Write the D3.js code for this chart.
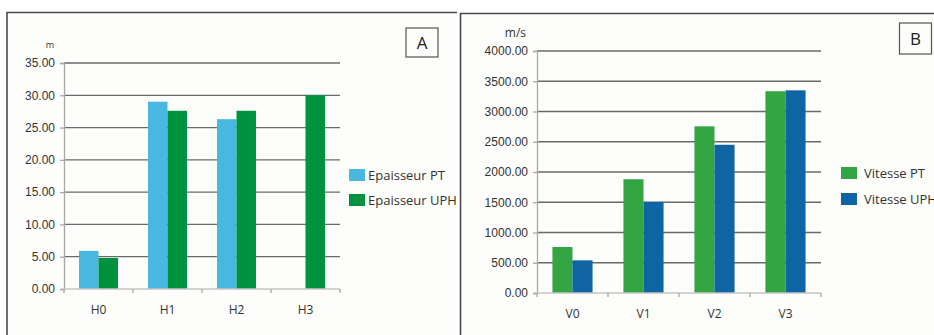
<!DOCTYPE html>
<html>
<head>
<meta charset="utf-8">
<script src="https://cdn.jsdelivr.net/npm/d3@7/dist/d3.min.js"></script>
<style>
  html, body { margin: 0; padding: 0; background: #ffffff; }
  svg { display: block; font-family: "Open Sans", "DejaVu Sans", sans-serif; }
</style>
</head>
<body>
<svg id="chart" width="934" height="335"></svg>
<script>
// Panel A: layer thickness (m)
const thicknessCategories = ["H0", "H1", "H2", "H3"];
const thicknessPT = [5.9, 29.0, 26.3, 0];
const thicknessUPH = [4.8, 27.6, 27.6, 30.0];
const thicknessTicks = [0, 5, 10, 15, 20, 25, 30, 35];
const thicknessSeries = ["Epaisseur PT", "Epaisseur UPH"];

// Panel B: wave velocity (m/s)
const velocityCategories = ["V0", "V1", "V2", "V3"];
const velocityPT = [760, 1880, 2755, 3335];
const velocityUPH = [540, 1505, 2450, 3350];
const velocityTicks = [0, 500, 1000, 1500, 2000, 2500, 3000, 3500, 4000];
const velocitySeries = ["Vitesse PT", "Vitesse UPH"];

const svg = d3.select("#chart");

function drawPanel(cfg) {
  const g = svg.append("g");

  // panel background and frame (top and left edges; the rest runs off the page)
  g.append("rect")
    .attr("x", cfg.frame.x).attr("y", cfg.frame.y)
    .attr("width", cfg.frame.w).attr("height", cfg.frame.h)
    .attr("fill", "#fdfdfb");
  g.append("path")
    .attr("d", `M${cfg.frame.x},${cfg.frame.y + cfg.frame.h}V${cfg.frame.y}H${cfg.frame.x + cfg.frame.w}`)
    .attr("fill", "none").attr("stroke", "#4a4a4a").attr("stroke-width", 1.6);

  const x0 = d3.scaleBand().domain(cfg.categories)
    .range([cfg.plot.left, cfg.plot.right]).paddingInner(0).paddingOuter(0);
  const keys = [0, 1];
  const x1 = d3.scaleBand().domain(keys)
    .range([0, x0.bandwidth() * cfg.groupFrac]).padding(0);
  const groupOffset = (x0.bandwidth() - x0.bandwidth() * cfg.groupFrac) / 2;
  const y = d3.scaleLinear().domain([0, cfg.max])
    .range([cfg.plot.bottom, cfg.plot.top]);

  // horizontal gridlines
  g.append("g").selectAll("line")
    .data(cfg.ticks.filter(t => t > 0))
    .join("line")
    .attr("x1", cfg.plot.left).attr("x2", cfg.plot.right)
    .attr("y1", d => y(d)).attr("y2", d => y(d))
    .attr("stroke", "#6a6a6a").attr("stroke-width", 1.3);

  // bars
  const series = [cfg.pt, cfg.uph];
  const rows = cfg.categories.map((c, i) => ({ c, v: series.map(s => s[i]) }));
  g.append("g").selectAll("g")
    .data(rows)
    .join("g")
    .attr("transform", d => `translate(${x0(d.c) + groupOffset},0)`)
    .selectAll("rect")
    .data(d => d.v.map((v, k) => ({ k, v })).filter(d => d.v > 0))
    .join("rect")
    .attr("x", d => x1(d.k))
    .attr("width", x1.bandwidth())
    .attr("y", d => y(d.v))
    .attr("height", d => y(0) - y(d.v))
    .attr("fill", d => cfg.colors[d.k]);

  // y axis
  const yAxis = d3.axisLeft(y).tickValues(cfg.ticks)
    .tickFormat(d3.format(".2f")).tickSize(4).tickPadding(5);
  const ya = g.append("g").attr("transform", `translate(${cfg.plot.left},0)`).call(yAxis);
  ya.select(".domain").attr("stroke", "#a8a8a8").attr("stroke-width", 1.3);
  ya.selectAll(".tick line").attr("stroke", "#a8a8a8").attr("stroke-width", 1.3);
  ya.selectAll(".tick text").attr("fill", "#333").style("font-size", "12px");

  // x axis: tick marks at category boundaries
  const bx = g.append("g");
  bx.append("line")
    .attr("x1", cfg.plot.left).attr("x2", cfg.plot.right)
    .attr("y1", y(0)).attr("y2", y(0))
    .attr("stroke", "#c4c4c4").attr("stroke-width", 1.3);
  const bounds = cfg.categories.map(c => x0(c)).concat([x0.range()[1]]);
  bx.selectAll("line.tk").data(bounds).join("line").attr("class", "tk")
    .attr("x1", d => d).attr("x2", d => d)
    .attr("y1", y(0)).attr("y2", y(0) + 4)
    .attr("stroke", "#a8a8a8").attr("stroke-width", 1.3);
  bx.selectAll("text").data(cfg.categories).join("text")
    .attr("x", d => x0(d) + x0.bandwidth() / 2)
    .attr("y", y(0) + 25)
    .attr("text-anchor", "middle")
    .attr("fill", "#333").style("font-size", "12px")
    .text(d => d);

  // unit label
  g.append("text")
    .attr("x", cfg.unit.x).attr("y", cfg.unit.y)
    .attr("text-anchor", "end")
    .attr("fill", "#333").style("font-size", cfg.unit.size)
    .text(cfg.unit.text);

  // legend
  const lg = g.append("g");
  cfg.names.forEach((n, i) => {
    lg.append("rect")
      .attr("x", cfg.legend.x).attr("y", cfg.legend.y + i * cfg.legend.gap)
      .attr("width", 16).attr("height", 12)
      .attr("fill", cfg.colors[i]);
    lg.append("text")
      .attr("x", cfg.legend.x + cfg.legend.textDx)
      .attr("y", cfg.legend.y + i * cfg.legend.gap + 11)
      .attr("fill", "#333").style("font-size", "13px")
      .text(n);
  });

  // panel letter
  g.append("rect")
    .attr("x", cfg.badge.x).attr("y", cfg.badge.y)
    .attr("width", cfg.badge.w).attr("height", cfg.badge.h)
    .attr("fill", "#fdfdfb").attr("stroke", "#555").attr("stroke-width", 1.2);
  g.append("text")
    .attr("x", cfg.badge.x + cfg.badge.w / 2)
    .attr("y", cfg.badge.y + cfg.badge.h / 2 + 6)
    .attr("text-anchor", "middle")
    .attr("fill", "#222").style("font-size", "17px")
    .text(cfg.badge.text);
}

drawPanel({
  frame: { x: 7, y: 12.5, w: 450, h: 340 },
  plot: { left: 64, right: 340, top: 63, bottom: 289 },
  max: 35,
  ticks: thicknessTicks,
  categories: thicknessCategories,
  pt: thicknessPT, uph: thicknessUPH,
  names: thicknessSeries,
  colors: ["#48b8e0", "#00933f"],
  groupFrac: 0.565,
  unit: { x: 54, y: 48, text: "m", size: "9px" },
  legend: { x: 349, y: 169, gap: 25, textDx: 19 },
  badge: { x: 406, y: 28, w: 32, h: 29, text: "A" }
});

drawPanel({
  frame: { x: 460.5, y: 13.5, w: 500, h: 340 },
  plot: { left: 537, right: 821, top: 51, bottom: 293 },
  max: 4000,
  ticks: velocityTicks,
  categories: velocityCategories,
  pt: velocityPT, uph: velocityUPH,
  names: velocitySeries,
  colors: ["#33a542", "#0f64a3"],
  groupFrac: 0.565,
  unit: { x: 526, y: 37, text: "m/s", size: "12px" },
  legend: { x: 841, y: 167, gap: 26, textDx: 23 },
  badge: { x: 899.5, y: 23, w: 32, h: 31, text: "B" }
});
</script>
</body>
</html>
